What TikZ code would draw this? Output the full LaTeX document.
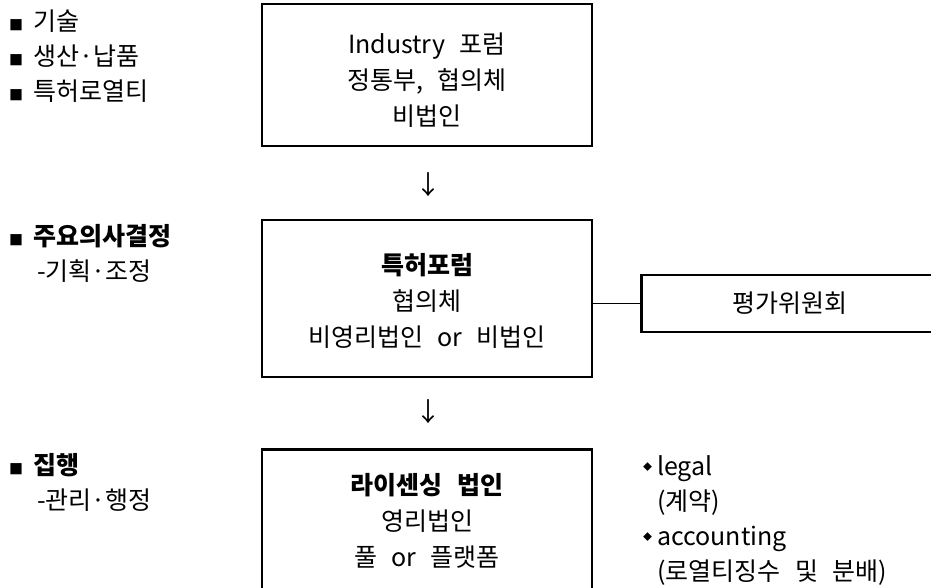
\documentclass[tikz,border=0pt]{standalone}
\usepackage{fontspec}
\setmainfont{Noto Sans CJK KR}[WordSpace=2.6]
\begin{document}
\begin{tikzpicture}[x=1pt,y=-1pt,
  box/.style={draw=black,line width=2.6pt,fill=white},
  boxtext/.style={align=center,font=\fontsize{25}{36}\selectfont,inner sep=0pt},
  side/.style={anchor=west,align=left,font=\fontsize{25}{35}\selectfont,inner sep=0pt},
  arr/.style={font=\fontsize{26}{26}\selectfont,inner sep=0pt},
  link/.style={draw=black,line width=1.2pt}]
\useasboundingbox (0,0) rectangle (931,587);
\clip (0,0) rectangle (931,587);
\newcommand{\sqbullet}{{\fontsize{14}{14}\selectfont■}\hspace{10pt}}
\newcommand{\dmbullet}{\raisebox{5pt}{\fontsize{9}{9}\selectfont◆}\hspace{5pt}}

% top level: industry forum
\node[box,minimum width=330pt,minimum height=142pt] (forum) at (427,75) {};
\node[boxtext] (forumtxt) at (427,80) {Industry 포럼\\정통부, 협의체\\비법인};

\node[arr] (arrA) at (428,185) {↓};

% middle level: patent forum and evaluation committee
\node[box,minimum width=330pt,minimum height=157pt] (patent) at (427,298.5) {};
\node[boxtext] (patenttxt) at (427,301) {\textbf{특허포럼}\\협의체\\비영리법인 or 비법인};

\node[box,minimum width=320pt,minimum height=57pt,anchor=west] (eval) at (640,303.5) {};
\node[boxtext] (evaltxt) at (790,303) {평가위원회};
\draw[link] (patent.east |- eval.west) -- (eval.west);

\node[arr] (arrB) at (428,412) {↓};

% bottom level: licensing company
\node[box,minimum width=330pt,minimum height=170pt,anchor=north] (lic) at (427,448) {};
\node[boxtext] (lictxt) at (427,521) {\textbf{라이센싱 법인}\\영리법인\\풀 or 플랫폼};

% side notes on the left
\node[side] (notesA) at (9,56) {\sqbullet 기술\\\sqbullet 생산·납품\\\sqbullet 특허로열티};
\node[side] (notesB) at (9,253) {\sqbullet\textbf{주요의사결정}\\\hspace{28pt}-기획·조정};
\node[side] (notesC) at (9,482) {\sqbullet\textbf{집행}\\\hspace{28pt}-관리·행정};

% side notes on the right
\node[side] (notesD) at (643,520) {\dmbullet legal\\\hspace{14pt}(계약)\\\dmbullet accounting\\\hspace{14pt}(로열티징수 및 분배)};
\end{tikzpicture}
\end{document}
